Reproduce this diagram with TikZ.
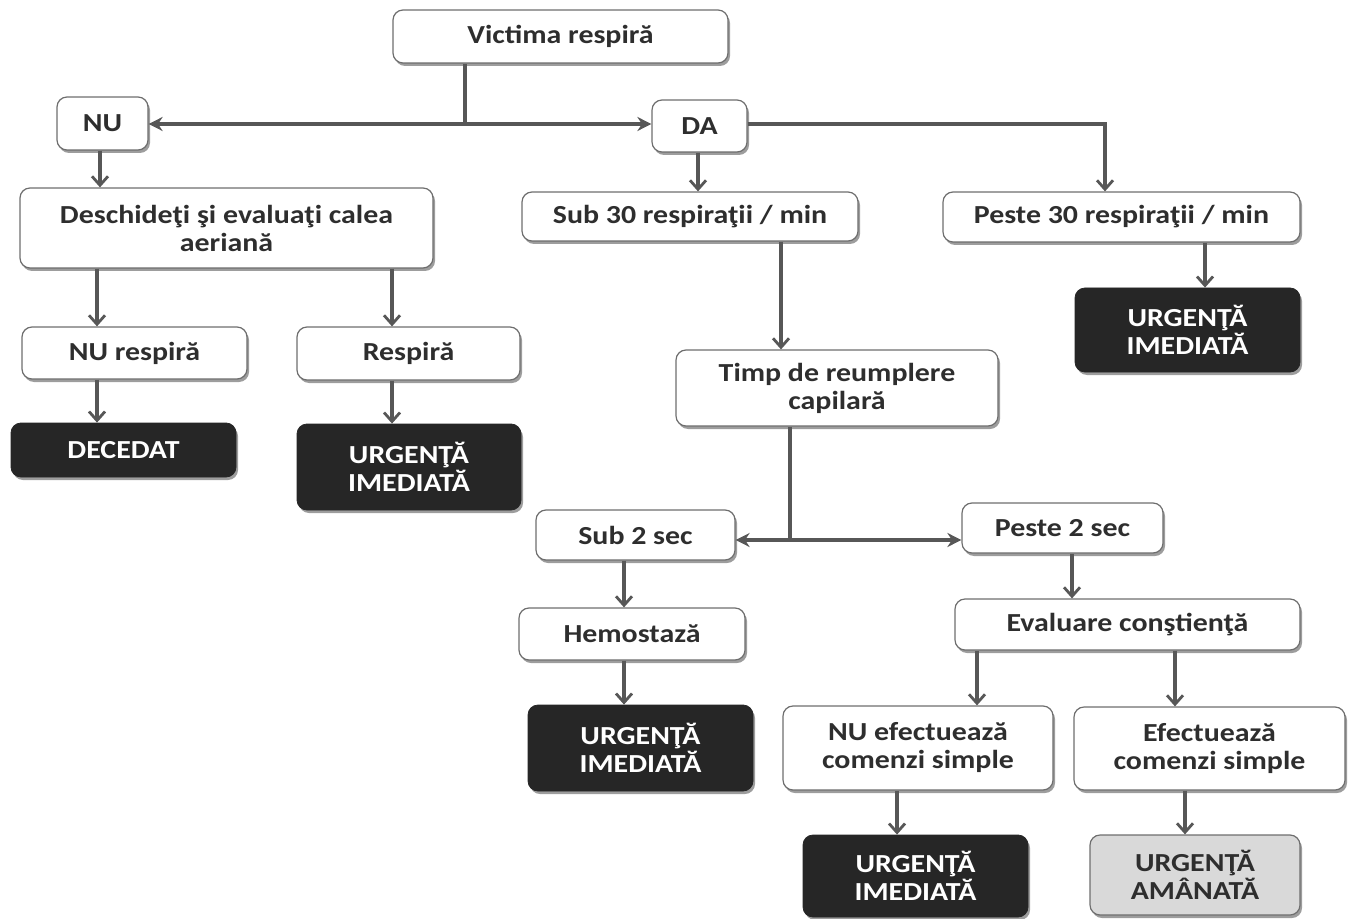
\documentclass[tikz,border=0pt]{standalone}
\usepackage{fontspec}
\setmainfont{Carlito}[FakeStretch=1.15]
\usetikzlibrary{arrows.meta,shadows}
\definecolor{linec}{HTML}{575757}
\definecolor{bordc}{HTML}{6E6E6E}
\definecolor{txtc}{HTML}{2E2E2E}
\definecolor{darkf}{HTML}{262626}
\definecolor{lightf}{HTML}{D9D9D9}
\tikzset{
  base/.style={rounded corners=5pt, inner sep=0pt, align=center, font=\bfseries\fontsize{13}{14}\selectfont,
    drop shadow={shadow xshift=1pt, shadow yshift=-1.5pt, fill=black!55, opacity=0.7}},
  wbox/.style={base, draw=bordc, line width=0.6pt, fill=white, text=txtc},
  dbox/.style={base, draw=darkf, fill=darkf, text=white},
  lbox/.style={base, draw=bordc, line width=0.6pt, fill=lightf, text=txtc},
  arr/.style={draw=linec, line width=1.6pt, -{Straight Barb[length=4.5pt,width=8pt,line width=1.4pt]}},
  harr/.style={draw=linec, line width=1.7pt, -{Stealth[length=7pt,width=7pt]}},
  plain/.style={draw=linec, line width=1.6pt}
}
\begin{document}
\begin{tikzpicture}[x=0.5pt,y=-0.5pt]
\useasboundingbox (0,0) rectangle (1352,919);
% nodes
\node[wbox, minimum width=167.5pt, minimum height=26.5pt] (vic) at (560.5,36.5) {Victima respiră};
\node[wbox, minimum width=45.5pt, minimum height=26.5pt] (nu) at (102.5,123.5) {NU};
\node[wbox, minimum width=47.5pt, minimum height=26pt] (da) at (699.5,126) {DA};
\node[wbox, minimum width=206.5pt, minimum height=40pt] (desc) at (226.5,228) {Deschideţi şi evaluaţi calea\\aeriană};
\node[wbox, minimum width=168pt, minimum height=24.5pt] (sub30) at (690,216.5) {Sub 30 respiraţii / min};
\node[wbox, minimum width=178.5pt, minimum height=25pt] (peste30) at (1121.5,217) {Peste 30 respiraţii / min};
\node[dbox, minimum width=112.5pt, minimum height=42pt] (urg1) at (1187.5,330) {URGENŢĂ\\IMEDIATĂ};
\node[wbox, minimum width=112.5pt, minimum height=26pt] (nuresp) at (134.5,353) {NU respiră};
\node[wbox, minimum width=111.5pt, minimum height=26.5pt] (resp) at (408.5,353.5) {Respiră};
\node[dbox, minimum width=112.5pt, minimum height=27pt] (dec) at (123.5,450) {DECEDAT};
\node[dbox, minimum width=112pt, minimum height=43pt] (urg2) at (409,467) {URGENŢĂ\\IMEDIATĂ};
\node[wbox, minimum width=161pt, minimum height=38pt] (timp) at (837,388) {Timp de reumplere\\capilară};
\node[wbox, minimum width=99.5pt, minimum height=25pt] (sub2) at (635.5,535) {Sub 2 sec};
\node[wbox, minimum width=100.5pt, minimum height=25pt] (peste2) at (1062.5,528) {Peste 2 sec};
\node[wbox, minimum width=113pt, minimum height=26pt] (hemo) at (632,634) {Hemostază};
\node[wbox, minimum width=172.5pt, minimum height=25.5pt] (eval) at (1127.5,624.5) {Evaluare conştienţă};
\node[dbox, minimum width=112.5pt, minimum height=43pt] (urg3) at (640.5,748) {URGENŢĂ\\IMEDIATĂ};
\node[wbox, minimum width=135pt, minimum height=42pt] (nuef) at (918,748) {NU efectuează\\comenzi simple};
\node[wbox, minimum width=135.5pt, minimum height=41.5pt] (ef) at (1209.5,748.5) {Efectuează\\comenzi simple};
\node[dbox, minimum width=112.5pt, minimum height=41pt] (urg4) at (915.5,876) {URGENŢĂ\\IMEDIATĂ};
\node[lbox, minimum width=105pt, minimum height=40pt] (aman) at (1195,875) {URGENŢĂ\\AMÂNATĂ};
% junction coordinates
\coordinate (j1) at (465,124);
\coordinate (j2) at (1105,124);
\coordinate (j3) at (790,540);
\coordinate (xa) at (100,0);
\coordinate (xb) at (698,0);
\coordinate (xc) at (97,0);
\coordinate (xd) at (392,0);
\coordinate (xe) at (1205,0);
\coordinate (xf) at (781,0);
\coordinate (xg) at (624,0);
\coordinate (xh) at (1072,0);
\coordinate (xi) at (977,0);
\coordinate (xj) at (1175,0);
\coordinate (xk) at (897,0);
\coordinate (xl) at (1185,0);
% connectors
\draw[plain] (vic.south -| j1) -- (j1);
\draw[harr] (j1) -- (j1 -| nu.east);
\draw[harr] (j1) -- (j1 -| da.west);
\draw[arr] (nu.south -| xa) -- (desc.north -| xa);
\draw[arr] (da.south -| xb) -- (sub30.north -| xb);
\draw[arr] (da.east |- j1) -- (j2) -- (peste30.north -| j2);
\draw[arr] (desc.south -| xc) -- (nuresp.north -| xc);
\draw[arr] (desc.south -| xd) -- (resp.north -| xd);
\draw[arr] (nuresp.south -| xc) -- (dec.north -| xc);
\draw[arr] (resp.south -| xd) -- (urg2.north -| xd);
\draw[arr] (peste30.south -| xe) -- (urg1.north -| xe);
\draw[arr] (sub30.south -| xf) -- (timp.north -| xf);
\draw[plain] (timp.south -| j3) -- (j3);
\draw[harr] (j3) -- (j3 -| sub2.east);
\draw[harr] (j3) -- (j3 -| peste2.west);
\draw[arr] (sub2.south -| xg) -- (hemo.north -| xg);
\draw[arr] (peste2.south -| xh) -- (eval.north -| xh);
\draw[arr] (hemo.south -| xg) -- (urg3.north -| xg);
\draw[arr] (eval.south -| xi) -- (nuef.north -| xi);
\draw[arr] (eval.south -| xj) -- (ef.north -| xj);
\draw[arr] (nuef.south -| xk) -- (urg4.north -| xk);
\draw[arr] (ef.south -| xl) -- (aman.north -| xl);
\end{tikzpicture}
\end{document}
